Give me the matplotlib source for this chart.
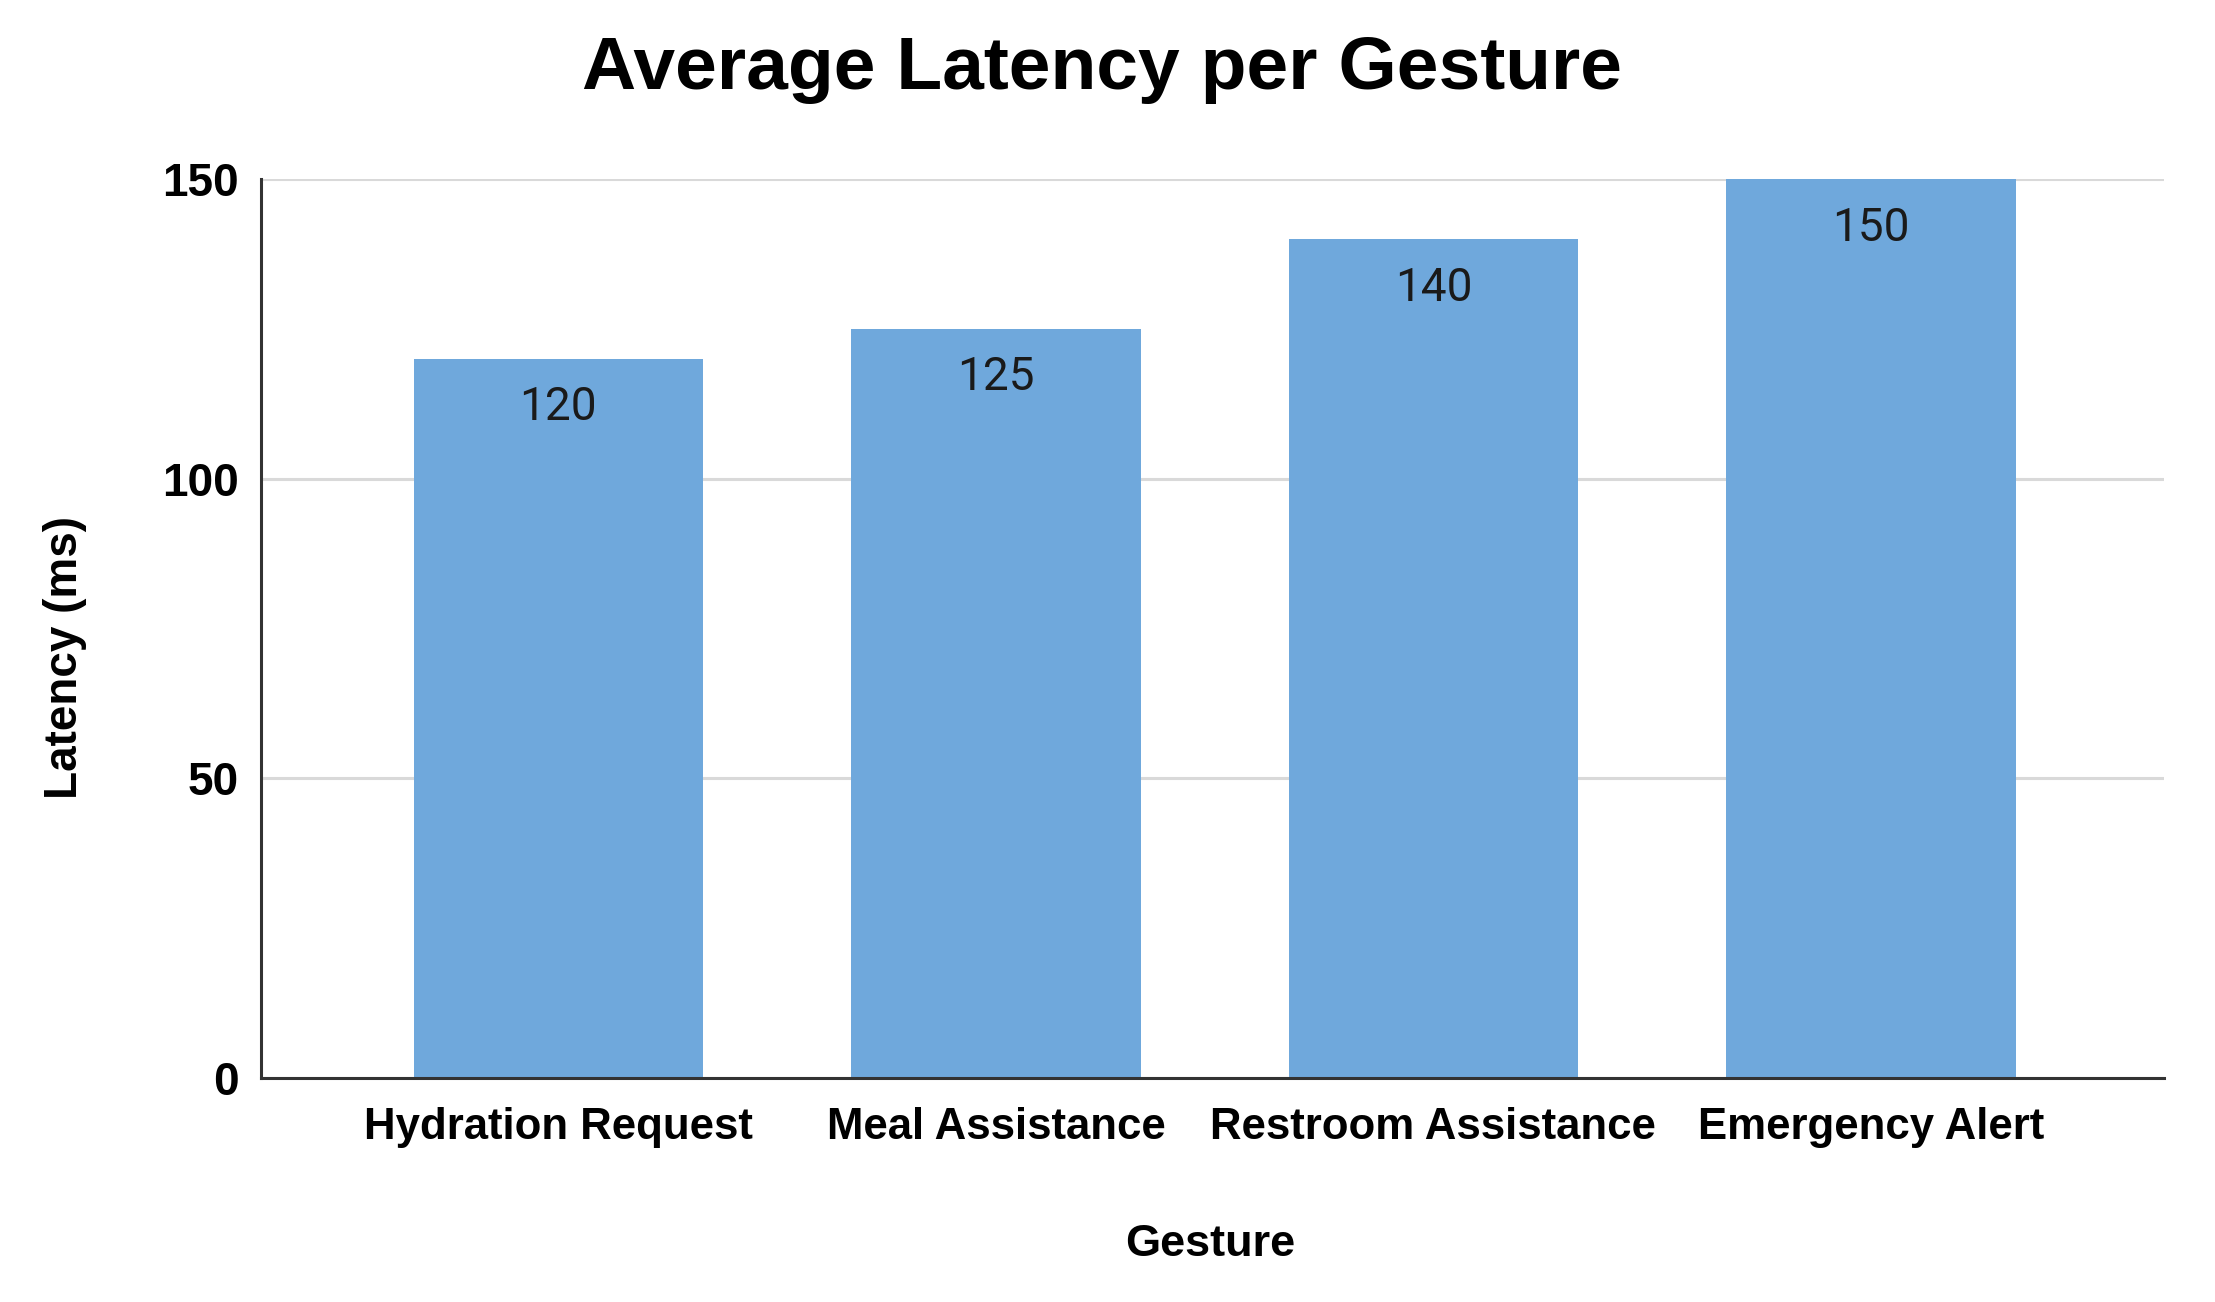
import matplotlib
matplotlib.use("Agg")
import matplotlib.pyplot as plt

categories = ["Hydration Request", "Meal Assistance", "Restroom Assistance", "Emergency Alert"]
latency_ms = [120, 125, 140, 150]
y_ticks = [0, 50, 100, 150]

fig = plt.figure(figsize=(22.15, 13.02), dpi=100)
ax = fig.add_axes([0.1178, 0.172, 0.8592, 0.6905])

x = list(range(len(categories)))
bars = ax.bar(x, latency_ms, width=0.661, color="#6fa8dc", zorder=2)

ax.set_xlim(-0.68, 3.67)
ax.set_ylim(0, 150)
ax.set_yticks(y_ticks)
ax.set_xticks(x)
ax.set_xticklabels(categories, fontfamily="Liberation Sans", fontweight="bold", fontsize=31.5)
ax.set_yticklabels([str(v) for v in y_ticks], fontfamily="Liberation Sans", fontweight="bold", fontsize=33)
ax.tick_params(axis="both", length=0)
ax.tick_params(axis="y", pad=16)
ax.tick_params(axis="x", pad=21)

ax.yaxis.grid(True, color="#d9d9d9", linewidth=2.2, zorder=0)
ax.set_axisbelow(True)
for s in ["top", "right"]:
    ax.spines[s].set_visible(False)
for s in ["left", "bottom"]:
    ax.spines[s].set_color("#333333")
    ax.spines[s].set_linewidth(2.2)
    ax.spines[s].set_zorder(3)

for xi, v in zip(x, latency_ms):
    ax.annotate(str(v), xy=(xi, v), xytext=(0, -35), textcoords="offset points",
                ha="center", va="center", fontfamily="Roboto", fontsize=33, color="#1a1a1a", zorder=4)

fig.text(0.4975, 0.947, "Average Latency per Gesture", ha="center", va="center",
         fontfamily="Liberation Sans", fontweight="bold", fontsize=54)
fig.text(0.5463, 0.044, "Gesture", ha="center", va="center",
         fontfamily="Liberation Sans", fontweight="bold", fontsize=32.5)
fig.text(0.0293, 0.495, "Latency (ms)", ha="center", va="center", rotation=90,
         fontfamily="Liberation Sans", fontweight="bold", fontsize=33)

fig.savefig("out.png", dpi=100, facecolor="white")
